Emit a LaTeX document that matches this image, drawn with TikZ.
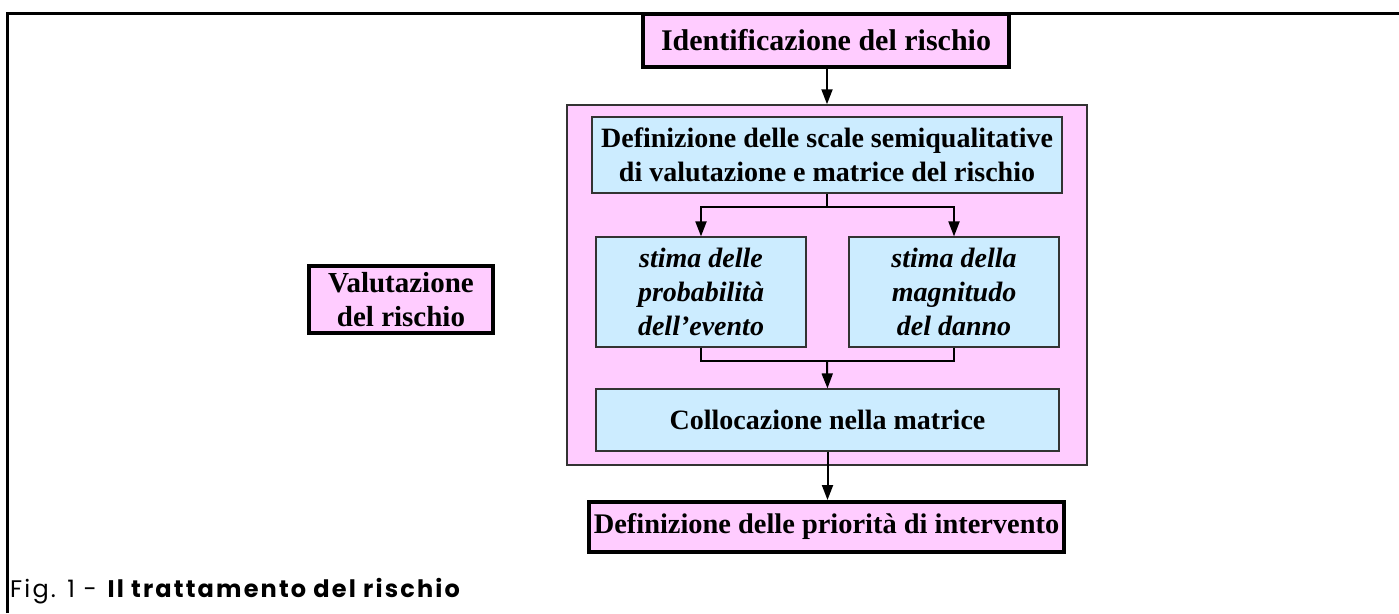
\documentclass[tikz,border=0pt]{standalone}
\usepackage{fontspec}
\setmainfont{Liberation Serif}
\newfontfamily\capfont[LetterSpace=9]{Poppins}
\usetikzlibrary{arrows.meta}
\definecolor{pinkfill}{HTML}{FFCCFF}
\definecolor{bluefill}{HTML}{CCECFF}
\tikzset{
  thickbox/.style={draw=black, line width=4pt, fill=pinkfill, inner sep=0pt, anchor=center,
    font=\fontsize{30}{34}\selectfont\bfseries, align=center},
  bluebox/.style={draw=black!80, line width=1.2pt, fill=bluefill, inner sep=0pt, anchor=center,
    font=\fontsize{28}{34}\selectfont\bfseries, align=center},
  container/.style={draw=black!80, line width=1.5pt, fill=pinkfill, inner sep=0pt, anchor=center},
  conn/.style={line width=2pt, black},
  arr/.style={conn, -{Triangle[length=15pt,width=11pt]}},
}
\begin{document}
\begin{tikzpicture}[x=1pt,y=-1pt]
\useasboundingbox (0,0) rectangle (1399,613);
\draw[line width=3pt] (7,613) -- (7,13) -- (1399,13);

\node[container, minimum width=520pt, minimum height=360pt] (cont) at (827,285) {};
\node[thickbox, minimum width=366pt, minimum height=53pt] (top) at (826,40.5) {Identificazione del rischio};
\node[bluebox, minimum width=470pt, minimum height=76pt] (b1) at (827,155) {Definizione delle scale semiqualitative\\di valutazione e matrice del rischio};
\node[bluebox, minimum width=210pt, minimum height=110pt, font=\fontsize{28}{34}\selectfont\bfseries\itshape] (b2) at (701,292) {stima delle\\probabilità\\dell’evento};
\node[bluebox, minimum width=210pt, minimum height=110pt, font=\fontsize{28}{34}\selectfont\bfseries\itshape] (b3) at (954,292) {stima della\\magnitudo\\del danno};
\node[bluebox, minimum width=463pt, minimum height=62pt] (b4) at (827.5,420) {Collocazione nella matrice};
\node[thickbox, minimum width=475pt, minimum height=50pt, font=\fontsize{28.4}{34}\selectfont\bfseries] (bot) at (826.5,527) {Definizione delle priorità di intervento};
\node[thickbox, minimum width=184pt, minimum height=67pt, font=\fontsize{29}{34}\selectfont\bfseries] (val) at (401,299.5) {Valutazione\\del rischio};

\coordinate (split) at (827,207);
\coordinate (join) at (827,361);
\draw[arr] (top.south -| cont.north) -- (cont.north);
\draw[conn] (b1.south) -- (split);
\draw[arr] (split) -| (b2.north);
\draw[arr] (split) -| (b3.north);
\draw[conn] (b2.south) |- (join);
\draw[conn] (b3.south) |- (join);
\draw[arr] (join) -- (b4.north);
\draw[arr] (b4.south) -- (b4.south |- bot.north);

\node[anchor=base west, inner sep=0pt, font=\capfont\fontsize{24}{28}\selectfont] (cap) at (10,597) {Fig. 1 - \textbf{Il trattamento del rischio}};
\end{tikzpicture}
\end{document}
